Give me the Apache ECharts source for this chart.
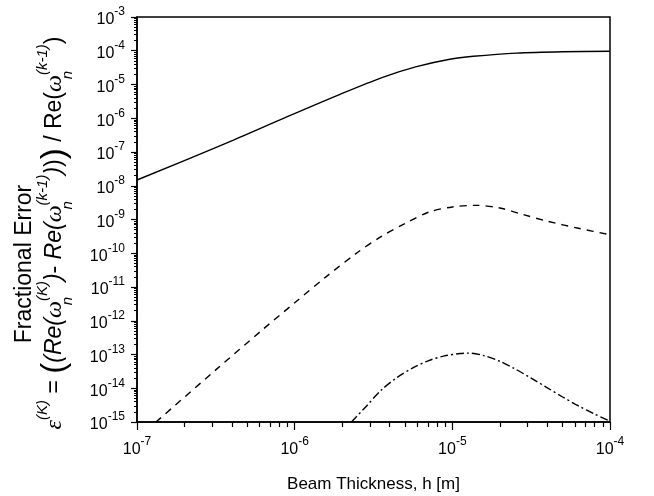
<!DOCTYPE html>
<html>
<head>
<meta charset="utf-8">
<script src="https://cdn.jsdelivr.net/npm/echarts@6/dist/echarts.min.js"></script>
<style>
  html, body { margin: 0; padding: 0; background: #fff; }
  #chart { width: 654px; height: 496px; }
</style>
</head>
<body>
<div id="chart"></div>
<script>
// beam thickness h [m] and fractional error
var hSolid = [1.0e-7, 3.72e-7, 8.91e-7, 1.94e-6, 3.65e-6, 5.93e-6, 9.64e-6, 1.36e-5, 2.55e-5, 5.01e-5, 1.0e-4];
var errSolid = [1.48e-8, 1.86e-7, 1.10e-6, 5.13e-6, 1.66e-5, 3.39e-5, 5.62e-5, 6.84e-5, 8.51e-5, 9.33e-5, 9.62e-5];

var hDashed = [1.32e-7, 3.16e-7, 6.3e-7, 1.0e-6, 1.58e-6, 2.5e-6, 3.55e-6, 5.0e-6, 7.1e-6, 1.0e-5,
  1.41e-5, 2.0e-5, 2.8e-5, 4.0e-5, 6.3e-5, 1.0e-4];
var errDashed = [1.0e-15, 3.5e-14, 5.6e-13, 3.4e-12, 2.0e-11, 1.05e-10, 3.16e-10, 7.6e-10, 1.66e-9, 2.35e-9,
  2.63e-9, 2.19e-9, 1.41e-9, 8.9e-10, 5.5e-10, 3.55e-10];

var hDashDot = [2.29e-6, 2.82e-6, 3.55e-6, 4.47e-6, 5.62e-6, 7.08e-6, 8.91e-6, 1.12e-5, 1.26e-5, 1.58e-5,
  2.0e-5, 2.51e-5, 3.16e-5, 3.98e-5, 5.01e-5, 6.31e-5, 7.94e-5, 1.0e-4];
var errDashDot = [1.0e-15, 2.8e-15, 8.9e-15, 2.1e-14, 4.0e-14, 6.6e-14, 9.1e-14, 1.07e-13, 1.1e-13, 9.3e-14,
  6.3e-14, 3.7e-14, 2.0e-14, 1.05e-14, 5.5e-15, 3.0e-15, 1.74e-15, 1.05e-15];

var xMajor = [1e-7, 1e-6, 1e-5, 1e-4];
var yMajor = [1e-15, 1e-14, 1e-13, 1e-12, 1e-11, 1e-10, 1e-9, 1e-8, 1e-7, 1e-6, 1e-5, 1e-4, 1e-3];

// 2..9 within each decade
function minorTicks(decades) {
  var out = [];
  for (var i = 0; i < decades.length - 1; i++) {
    for (var m = 2; m <= 9; m++) out.push(m * decades[i]);
  }
  return out;
}
var xMinor = minorTicks(xMajor);
var yMinor = minorTicks(yMajor);

var FONT = 'Liberation Sans';
var labelRich = {
  b: { fontFamily: FONT, fontSize: 16, color: '#000', lineHeight: 22, verticalAlign: 'bottom' },
  sup: { fontFamily: FONT, fontSize: 12, color: '#000', verticalAlign: 'top', lineHeight: 22 }
};
function powLabel(v) {
  return '{b|10}{sup|' + Math.round(Math.log10(v)) + '}';
}

var chart = echarts.init(document.getElementById('chart'), null, { renderer: 'canvas' });

function lineSeries(xs, ys, type) {
  return {
    type: 'line',
    data: xs.map(function (x, i) { return [x, ys[i]]; }),
    smooth: 0.3,
    showSymbol: false,
    clip: true,
    lineStyle: { color: '#000', width: 1.4, type: type },
    silent: true
  };
}

var eqRich = {
  t: { fontFamily: FONT, fontSize: 23, color: '#000' },
  it: { fontFamily: FONT, fontSize: 23, fontStyle: 'italic', color: '#000' },
  gr: { fontFamily: 'Liberation Serif', fontSize: 24, fontStyle: 'italic', color: '#000' },
  big: { fontFamily: FONT, fontSize: 33, color: '#000' },
  sup: { fontFamily: FONT, fontSize: 15, fontStyle: 'italic', color: '#000', verticalAlign: 'top', lineHeight: 40 },
  sub: { fontFamily: FONT, fontSize: 15, fontStyle: 'italic', color: '#000', verticalAlign: 'bottom', lineHeight: 40, width: 0 }
};
var omK = '{gr|ω}{sub|n}{sup|(K)}';
var omK1 = '{gr|ω}{sub|n}{sup|(k-1)}';
var eqText = '{gr|ε}{sup|(K)}{t| = }{big|(}{it|(Re(}' + omK + '{it|)}{t|- }{it|Re(}' + omK1 +
  '{it|)}{t|)}{big|)}{t| / Re(}' + omK1 + '{t|)}';

chart.setOption({
  animation: false,
  backgroundColor: '#fff',
  grid: {
    left: 137, right: 44, top: 17, bottom: 74,
    show: true, borderColor: '#000', borderWidth: 1.5,
    outerBoundsMode: 'none'
  },
  xAxis: [
    {
      type: 'log', logBase: 10, min: 1e-7, max: 1e-4, position: 'bottom',
      name: 'Beam Thickness, h [m]', nameLocation: 'middle', nameGap: 54,
      nameTextStyle: { fontFamily: FONT, fontSize: 17, color: '#000' },
      axisLine: { lineStyle: { color: '#000', width: 1.5 } },
      axisTick: { customValues: xMajor, length: 8, lineStyle: { color: '#000', width: 1.2 } },
      axisLabel: { customValues: xMajor, formatter: powLabel, rich: labelRich, margin: 14 },
      splitLine: { show: false }, minorTick: { show: false }
    },
    {
      type: 'log', logBase: 10, min: 1e-7, max: 1e-4, position: 'bottom',
      axisLine: { show: false },
      axisTick: { customValues: xMinor, length: 5, lineStyle: { color: '#000', width: 1.2 } },
      axisLabel: { show: false },
      splitLine: { show: false }
    }
  ],
  yAxis: [
    {
      type: 'log', logBase: 10, min: 1e-15, max: 1e-3, position: 'left',
      axisLine: { lineStyle: { color: '#000', width: 1.5 } },
      axisTick: { customValues: yMajor, length: 6, lineStyle: { color: '#000', width: 1.2 } },
      axisLabel: { customValues: yMajor, formatter: powLabel, rich: labelRich, margin: 12 },
      splitLine: { show: false }, minorTick: { show: false }
    },
    {
      type: 'log', logBase: 10, min: 1e-15, max: 1e-3, position: 'left',
      axisLine: { show: false },
      axisTick: { customValues: yMinor, length: 3, lineStyle: { color: '#000', width: 1 } },
      axisLabel: { show: false },
      splitLine: { show: false }
    }
  ],
  graphic: [
    {
      type: 'text', x: 25, y: 264, rotation: Math.PI / 2,
      style: { text: 'Fractional Error', font: '23px "Liberation Sans"', fill: '#000', align: 'center', verticalAlign: 'middle' }
    },
    {
      type: 'text', x: 55, y: 233, rotation: Math.PI / 2,
      style: { text: eqText, rich: eqRich, align: 'center', verticalAlign: 'middle', fill: '#000' }
    }
  ],
  series: [
    lineSeries(hSolid, errSolid, 'solid'),
    lineSeries(hDashed, errDashed, [7, 6]),
    lineSeries(hDashDot, errDashDot, [8, 3, 2, 3])
  ]
});
</script>
</body>
</html>
